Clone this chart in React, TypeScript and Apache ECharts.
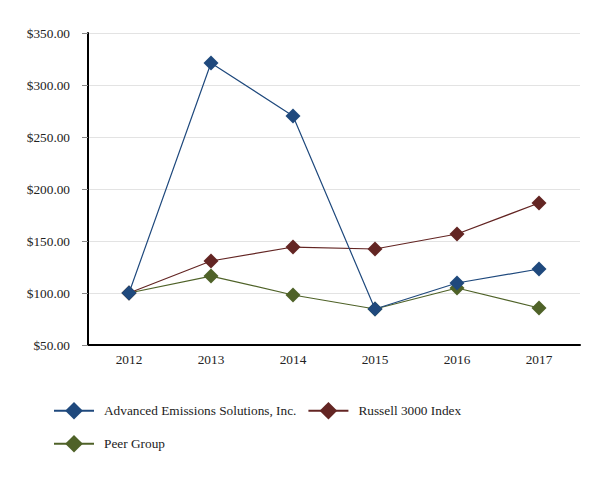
import React, { useEffect, useRef } from "react";
import * as echarts from "echarts";

const years = ["2012", "2013", "2014", "2015", "2016", "2017"];
const aesValues = [100, 321.2, 270.2, 84.6, 109.6, 123.1];
const russellValues = [100, 130.8, 144.2, 142.3, 156.7, 186.5];
const peerValues = [100, 116.3, 98.1, 84.6, 104.8, 85.6];
const seriesNames = ["Advanced Emissions Solutions, Inc.", "Russell 3000 Index", "Peer Group"];
const colors = ["#1f497d", "#632523", "#4f6228"];

export default function App() {
  const ref = useRef<HTMLDivElement>(null);
  useEffect(() => {
    document.body.style.margin = "0";
    const chart = echarts.init(ref.current!, null, { renderer: "svg" });
    const font = "Liberation Serif";
    const fs = 13.3;
    const mk = (name: string, data: number[], color: string, z: number) => ({
      name,
      type: "line",
      data,
      symbol: "diamond",
      symbolSize: 15,
      z,
      itemStyle: { color },
      lineStyle: { color, width: 1.2 },
    });
    const legendText = { fontFamily: font, fontSize: fs, color: "#222", padding: [0, 0, 0, 5] };
    chart.setOption({
      animation: false,
      textStyle: { fontFamily: font },
      grid: { left: 88, right: 33, top: 33, bottom: 135, containLabel: false },
      legend: [
        {
          data: [seriesNames[0], seriesNames[1]],
          left: 53,
          top: 402,
          padding: 0,
          itemWidth: 40,
          itemHeight: 22,
          itemGap: 11,
          textStyle: legendText,
        },
        {
          data: [seriesNames[2]],
          left: 53,
          top: 435,
          padding: 0,
          itemWidth: 40,
          itemHeight: 22,
          textStyle: legendText,
        },
      ],
      xAxis: {
        type: "category",
        data: years,
        boundaryGap: true,
        axisLine: { lineStyle: { color: "#000", width: 2 } },
        axisTick: { alignWithLabel: true, length: 5, lineStyle: { color: "#888" } },
        axisLabel: { fontFamily: font, fontSize: fs, color: "#222", margin: 8 },
        splitLine: { show: false },
      },
      yAxis: {
        type: "value",
        min: 50,
        max: 350,
        interval: 50,
        axisLine: { show: true, lineStyle: { color: "#000", width: 2 } },
        axisTick: { show: true, length: 6, lineStyle: { color: "#888" } },
        axisLabel: {
          fontFamily: font,
          fontSize: fs,
          color: "#222",
          margin: 18,
          formatter: (v: number) => "$" + v.toFixed(2),
        },
        splitLine: { show: true, lineStyle: { color: "#e3e3e3", width: 1 } },
      },
      series: [
        mk(seriesNames[0], aesValues, colors[0], 3),
        mk(seriesNames[1], russellValues, colors[1], 2),
        mk(seriesNames[2], peerValues, colors[2], 1),
      ],
    });
    return () => chart.dispose();
  }, []);
  return <div ref={ref} style={{ width: 613, height: 480 }} />;
}
